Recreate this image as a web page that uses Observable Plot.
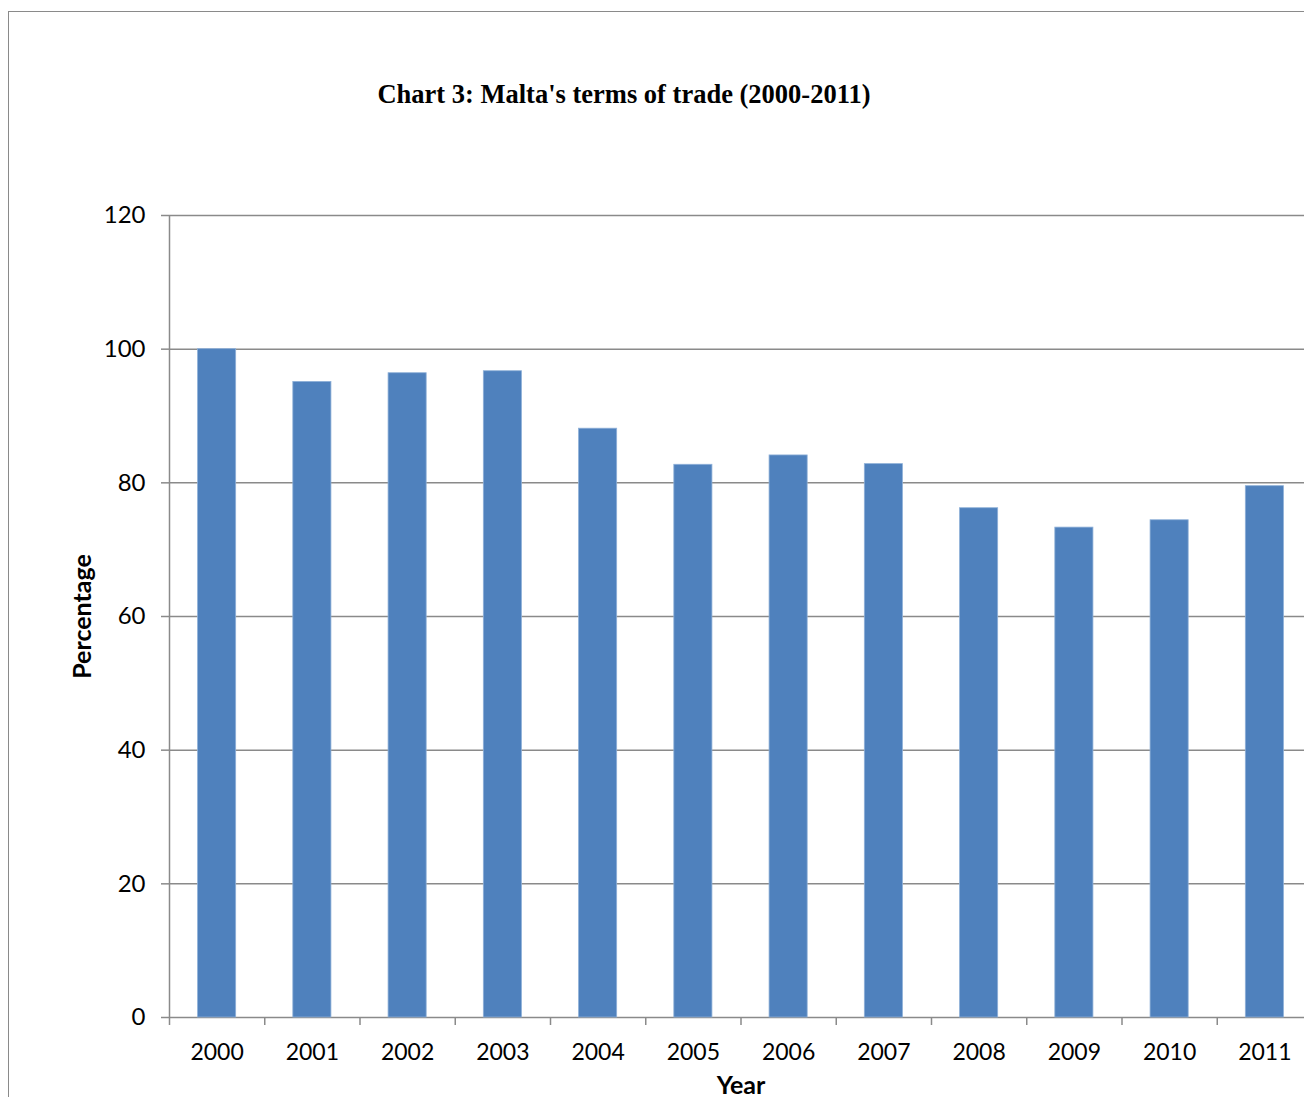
<!DOCTYPE html>
<html><head><meta charset="utf-8">
<script src="https://cdn.jsdelivr.net/npm/d3@7"></script>
<script src="https://cdn.jsdelivr.net/npm/@observablehq/plot@0.6"></script>
<style>
html,body{margin:0;padding:0;background:#fff;overflow:hidden;width:1304px;height:1097px}
#wrap{position:relative;width:1304px;height:1097px;overflow:hidden;background:#fff}
#frame{position:absolute;left:8px;top:11px;right:-10px;bottom:-10px;border-left:1px solid #8a8a8a;border-top:1px solid #8a8a8a}
#title{position:absolute;left:0;width:1248px;top:79px;text-align:center;font:bold 26.5px "Liberation Serif","Times New Roman",serif;color:#000}
#chart{position:absolute;left:0;top:0;width:1320px}
#chart svg{max-width:none !important}
</style></head><body>
<div id="wrap"><div id="frame"></div><div id="chart"></div><div id="title">Chart 3: Malta's terms of trade (2000-2011)</div></div>
<script>
const years = [2000, 2001, 2002, 2003, 2004, 2005, 2006, 2007, 2008, 2009, 2010, 2011];
const values = [100, 95.1, 96.4, 96.7, 88.1, 82.7, 84.1, 82.8, 76.2, 73.3, 74.4, 79.5];
const yTicks = [0, 20, 40, 60, 80, 100, 120];
const yLabel = "Percentage";
const xLabel = "Year";

const data = years.map((year, i) => ({year, value: values[i]}));
const boundaries = years.map(y => y - 0.5).concat([years[years.length - 1] + 0.5]);
const grid = "#8a8a8a";

const chart = Plot.plot({
  width: 1320,
  height: 1110,
  marginLeft: 169,
  marginRight: 8,
  marginTop: 215,
  marginBottom: 93,
  x: {domain: [years[0] - 0.5, years[years.length - 1] + 0.5], axis: null},
  y: {domain: [0, 120], axis: null},
  style: {fontFamily: "Lato, 'Open Sans', sans-serif", color: "#000", background: "transparent", overflow: "visible"},
  marks: [
    Plot.ruleY(yTicks, {stroke: grid, strokeWidth: 1.5}),
    Plot.ruleX([boundaries[0]], {y1: 0, y2: 120, stroke: grid, strokeWidth: 1.5}),
    Plot.rectY(data, {x1: d => d.year - 0.2, x2: d => d.year + 0.2, y: "value", fill: "#4F81BD", stroke: "#8eb0d8", strokeWidth: 0.8}),
    Plot.axisY({ticks: yTicks, tickSize: 8, tickPadding: 16, fontSize: 24, stroke: grid, strokeWidth: 1.5, label: null}),
    Plot.axisX({ticks: boundaries, tickSize: 8, tickFormat: () => "", stroke: grid, strokeWidth: 1.5, label: null}),
    Plot.axisX({ticks: years, tickSize: 0, tickPadding: 26, tickFormat: d => String(d), fontSize: 23, label: null}),
    Plot.text([yLabel], {frameAnchor: "left", dx: -87, rotate: -90, textAnchor: "middle", lineAnchor: "middle", fontWeight: "bold", fontSize: 25}),
    Plot.text([xLabel], {frameAnchor: "bottom", dy: 68, textAnchor: "middle", lineAnchor: "middle", fontWeight: "bold", fontSize: 25})
  ]
});
chart.style.maxWidth = "none";
document.getElementById("chart").appendChild(chart);
</script>
</body></html>
